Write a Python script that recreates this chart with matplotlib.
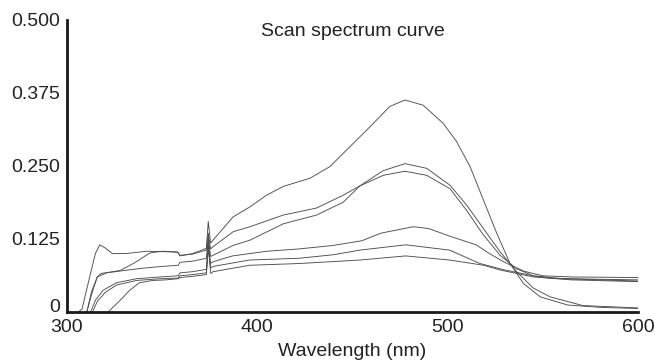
"""Scan spectrum curve: six absorption scans, 300-600 nm."""

import matplotlib
matplotlib.use('Agg')
import matplotlib.pyplot as plt
import matplotlib.transforms as mtransforms

plt.rcParams['font.family'] = ['Liberation Sans', 'DejaVu Sans']

# wavelength (nm) / absorbance pairs, one list per curve
wl_a = [306, 308, 312, 315, 317.3, 320, 324, 331, 342, 354, 358.5, 359.4, 366,
        373.3, 374.3, 375.5, 376.8, 387.4, 396.2, 404.9, 413.7, 427.7, 438.2,
        448.7, 459.2, 469.7, 477.6, 487.2, 497.7, 504.7, 511.8, 518.8, 525.8,
        532.8, 539.8, 548.6, 563, 580, 600]
ab_a = [0, 0.005, 0.06, 0.10, 0.115, 0.11, 0.100, 0.100, 0.104, 0.103, 0.102,
        0.096, 0.100, 0.109, 0.155, 0.118, 0.123, 0.163, 0.180, 0.200, 0.215,
        0.229, 0.249, 0.283, 0.317, 0.352, 0.363, 0.354, 0.323, 0.292, 0.249,
        0.192, 0.135, 0.083, 0.049, 0.026, 0.012, 0.008, 0.006]

wl_b = [310.5, 313, 316, 318, 322, 328, 336, 343.6, 350, 358, 359.4, 366,
        373.3, 374.3, 375.5, 376.9, 387.4, 396.2, 413.7, 431.2, 445.2, 454,
        466.2, 477.6, 489, 501.3, 510, 518.8, 527.6, 536.3, 545, 553.8, 571,
        600]
ab_b = [0, 0.03, 0.06, 0.066, 0.068, 0.071, 0.085, 0.101, 0.104, 0.103, 0.097,
        0.099, 0.106, 0.135, 0.108, 0.112, 0.1375, 0.146, 0.166, 0.178, 0.200,
        0.216, 0.242, 0.254, 0.246, 0.217, 0.183, 0.143, 0.103, 0.069, 0.041,
        0.026, 0.011, 0.007]

wl_c = [310.5, 313, 316, 320.9, 330, 340, 350, 358.5, 359.4, 366, 373.3, 374.3,
        375.5, 387.4, 396.2, 413.7, 431.2, 445.2, 454, 466.2, 477.6, 489,
        501.3, 510, 518.8, 527.6, 536.3, 545, 553.8, 565, 580, 600]
ab_c = [0, 0.035, 0.06, 0.067, 0.071, 0.075, 0.078, 0.080, 0.085, 0.087, 0.092,
        0.128, 0.095, 0.114, 0.123, 0.151, 0.166, 0.188, 0.216, 0.234, 0.241,
        0.234, 0.211, 0.174, 0.132, 0.097, 0.074, 0.062, 0.058, 0.057, 0.056,
        0.055]

wl_d = [312.5, 315, 319, 326, 336.6, 348.9, 358.5, 359.4, 366, 373.3, 374.3,
        375.5, 376.8, 387, 405, 422, 440, 455, 465, 482, 490, 501, 515, 522,
        530, 540, 550, 565, 600]
ab_d = [0, 0.02, 0.037, 0.050, 0.057, 0.060, 0.062, 0.067, 0.069, 0.073, 0.12,
        0.083, 0.086, 0.096, 0.104, 0.108, 0.114, 0.122, 0.135, 0.146, 0.143,
        0.130, 0.115, 0.100, 0.085, 0.070, 0.062, 0.060, 0.059]

wl_e = [313.5, 316, 320, 326, 336.6, 349, 358.5, 359.4, 366, 373.3, 374.3,
        375.5, 376.8, 396, 422, 440, 454, 478, 501, 517, 530, 545, 560, 600]
ab_e = [0, 0.018, 0.033, 0.046, 0.054, 0.057, 0.058, 0.062, 0.064, 0.067, 0.115,
        0.075, 0.078, 0.089, 0.092, 0.098, 0.106, 0.115, 0.106, 0.083, 0.072,
        0.062, 0.057, 0.053]

wl_f = [321.7, 328, 333, 338, 345, 352, 358.5, 359.4, 366, 373.3, 374.3, 375.6,
        376.8, 396, 422, 454, 478, 501, 519, 527.5, 545, 565, 600]
ab_f = [0, 0.02, 0.037, 0.050, 0.054, 0.055, 0.057, 0.059, 0.061, 0.064, 0.110,
        0.066, 0.069, 0.080, 0.083, 0.089, 0.096, 0.089, 0.080, 0.072, 0.060,
        0.055, 0.052]

x_ticks = [300, 400, 500, 600]
y_ticks = [0, 0.125, 0.25, 0.375, 0.5]
y_labels = ['0', '0.125', '0.250', '0.375', '0.500']


def make_plot():
    """Draw all scans on one set of axes and save."""
    fig = plt.figure(figsize=(6.55, 3.63), dpi=100)
    ax = fig.add_axes([0.102, 0.1405, 0.872, 0.8045])

    curves = [(wl_a, ab_a), (wl_b, ab_b), (wl_c, ab_c),
              (wl_d, ab_d), (wl_e, ab_e), (wl_f, ab_f)]
    for xvals, yvals in curves:
        ax.plot(xvals, yvals, color='#4d4d4d', lw=0.65)

    ax.set_xlim(300, 600)
    ax.set_ylim(0, 0.5)
    ax.set_xticks(x_ticks)
    ax.set_yticks(y_ticks)
    ax.set_yticklabels(y_labels)
    ax.tick_params(length=0, labelsize=14, colors='#222222', pad=5)

    # the "0" sits a little above the x axis in the original
    lift = mtransforms.ScaledTranslation(0, 5 / 72, fig.dpi_scale_trans)
    zero = ax.get_yticklabels()[0]
    zero.set_transform(zero.get_transform() + lift)

    for side in ('top', 'right'):
        ax.spines[side].set_visible(False)
    for side in ('left', 'bottom'):
        ax.spines[side].set_linewidth(2)
        ax.spines[side].set_color('#1a1a1a')

    ax.set_xlabel('Wavelength (nm)', fontsize=14, color='#222222', labelpad=5)
    ax.text(0.5, 0.96, 'Scan spectrum curve', transform=ax.transAxes,
            ha='center', va='center', fontsize=14, color='#222222')

    fig.savefig('out.png', dpi=100)


if __name__ == '__main__':
    make_plot()
